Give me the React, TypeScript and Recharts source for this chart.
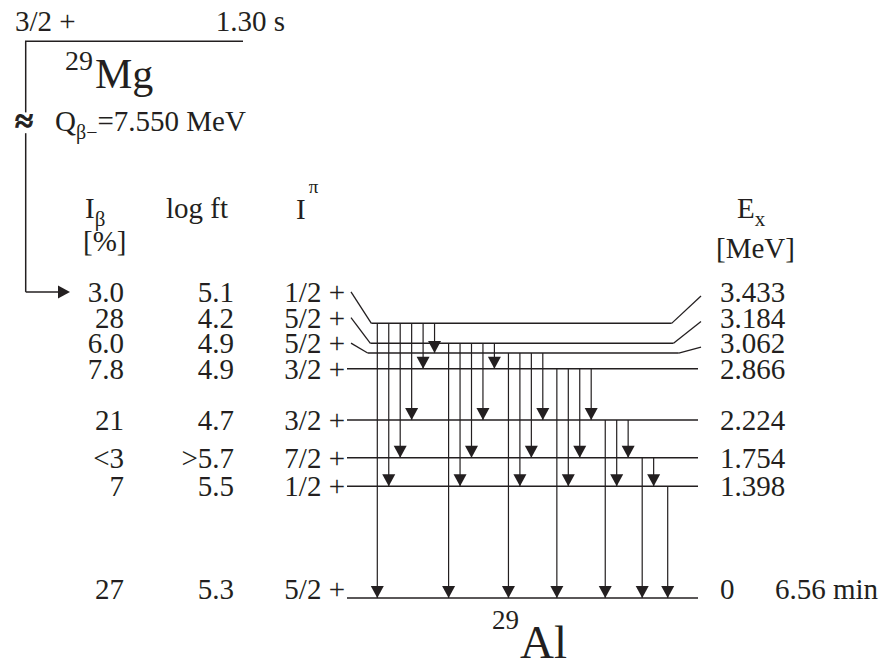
import React from 'react';
import { ComposedChart, XAxis, YAxis, ReferenceLine, ReferenceDot, Scatter } from 'recharts';

const ink = '#231f20';
const serif = 'Liberation Serif';
const FONT = 29;
const textStyle = { fontFamily: serif };

// 29Al levels fed in the beta- decay of 29Mg, ground state first
const levelEnergies = [0, 1.398, 1.754, 2.224, 2.866, 3.062, 3.184, 3.433];
const energyLabels = ['0', '1.398', '1.754', '2.224', '2.866', '3.062', '3.184', '3.433'];
const levelSpins = ['5/2 +', '1/2 +', '7/2 +', '3/2 +', '3/2 +', '5/2 +', '5/2 +', '1/2 +'];
const betaFeeding = ['27', '7', '<3', '21', '7.8', '6.0', '28', '3.0'];
const logFt = ['5.3', '5.5', '>5.7', '4.7', '4.9', '4.9', '4.2', '5.1'];

// gamma rays as [initial, final] level energy (MeV), grouped by initial level
const gammaRays = [
  [3.433, 0], [3.433, 1.398], [3.433, 1.754], [3.433, 2.224], [3.433, 2.866], [3.433, 3.062],
  [3.184, 0], [3.184, 1.398], [3.184, 1.754], [3.184, 2.224], [3.184, 2.866],
  [3.062, 0], [3.062, 1.398], [3.062, 1.754], [3.062, 2.224],
  [2.866, 0], [2.866, 1.398], [2.866, 1.754], [2.866, 2.224],
  [2.224, 0], [2.224, 1.398], [2.224, 1.754],
  [1.754, 0], [1.754, 1.398],
  [1.398, 0],
];

const parentSpin = '3/2 +';
const parentHalfLife = '1.30 s';
const qValue = '=7.550 MeV';
const groundHalfLife = '6.56 min';

const W = 881;
const H = 664;
// energy axis: 80 px per MeV, ground state at y = 598
const Y_DOMAIN: [number, number] = [-0.825, 7.475];
const PX_PER_MEV = H / (Y_DOMAIN[1] - Y_DOMAIN[0]);
const PARENT_Y = 6.96; // parent level sits above a broken axis
const BREAK_Y = 5.94;
const LABEL_GAP = 0.32; // min spacing of level labels, MeV

// level labels are pushed up when levels crowd together
const labelEnergies: number[] = [];
levelEnergies.forEach((e, i) => {
  labelEnergies.push(i === 0 ? e : Math.max(e, labelEnergies[i - 1] + LABEL_GAP));
});

// gamma lines sit side by side, a small extra gap between groups
const gammaX: number[] = [];
{
  let group = 0;
  gammaRays.forEach((g, i) => {
    if (i > 0 && g[0] !== gammaRays[i - 1][0]) group += 1;
    gammaX.push(377.3 + i * 11.45 + group * 2.6);
  });
}

const arrowDown = (p: any) => (
  <path d={`M${p.cx - 6.5},${p.cy - 12} L${p.cx + 6.5},${p.cy - 12} L${p.cx},${p.cy} Z`} fill={ink} />
);

const arrowRight = (p: any) => (
  <path d={`M${p.cx - 12},${p.cy - 6.5} L${p.cx - 12},${p.cy + 6.5} L${p.cx},${p.cy} Z`} fill={ink} />
);

const columnText = (anchor: 'start' | 'end') => (p: any) => (
  <text
    x={p.cx}
    y={p.cy + (p.payload.ground ? 1 : 10)}
    textAnchor={anchor}
    fontFamily={serif}
    style={textStyle}
    fontSize={FONT}
    fill={ink}
  >
    {p.payload.text}
  </text>
);

const column = (x: number, texts: string[]) =>
  texts.map((text, i) => ({ x, y: labelEnergies[i], text, ground: levelEnergies[i] === 0 }));

export default function App() {
  const levelLines = levelEnergies.map((e, i) => {
    const le = labelEnergies[i];
    const shift = (le - e) * PX_PER_MEV;
    const x0 = shift > 0 ? 366 + 0.17 * shift : 347;
    const x1 = shift > 0 ? 682 - 0.33 * shift : 698;
    return { e, le, shift, x0, x1 };
  });
  const feedY = labelEnergies[labelEnergies.length - 1];

  return (
    <div style={{ position: 'absolute', left: 0, top: 0, width: W, height: H, background: '#fff', fontFamily: serif }}>
      <ComposedChart width={W} height={H} margin={{ top: 0, right: 0, bottom: 0, left: 0 }} style={textStyle}>
        <XAxis type="number" dataKey="x" domain={[0, W]} allowDataOverflow hide />
        <YAxis type="number" dataKey="y" domain={Y_DOMAIN} allowDataOverflow hide />

        {/* parent level and beta feeding line */}
        <ReferenceLine segment={[{ x: 25, y: PARENT_Y }, { x: 243, y: PARENT_Y }]} stroke={ink} strokeWidth={1.5} ifOverflow="visible" />
        <ReferenceLine segment={[{ x: 25.7, y: PARENT_Y }, { x: 25.7, y: BREAK_Y + 0.13 }]} stroke={ink} strokeWidth={1.5} ifOverflow="visible" />
        <ReferenceLine segment={[{ x: 25.7, y: BREAK_Y - 0.13 }, { x: 25.7, y: feedY }]} stroke={ink} strokeWidth={1.5} ifOverflow="visible" />
        <ReferenceLine segment={[{ x: 25.7, y: feedY }, { x: 60, y: feedY }]} stroke={ink} strokeWidth={1.5} ifOverflow="visible" />
        <ReferenceDot
          x={25}
          y={BREAK_Y}
          ifOverflow="visible"
          shape={(p: any) => (
            <text
              x={p.cx - 1}
              y={p.cy + 9}
              textAnchor="middle"
              fontFamily={serif}
              style={textStyle}
              fontSize={33}
              fontWeight="bold"
              fill={ink}
              stroke={ink}
              strokeWidth={0.9}
            >
              ≈
            </text>
          )}
        />
        <Scatter data={[{ x: 70, y: feedY }]} shape={arrowRight} isAnimationActive={false} />

        {/* daughter levels with connectors to their labels */}
        {levelLines.map((l, i) => (
          <ReferenceLine key={`lv${i}`} segment={[{ x: l.x0, y: l.e }, { x: l.x1, y: l.e }]} stroke={ink} strokeWidth={1.5} ifOverflow="visible" />
        ))}
        {levelLines.filter((l) => l.shift > 0).map((l, i) => (
          <ReferenceLine key={`cl${i}`} segment={[{ x: 351, y: l.le }, { x: l.x0, y: l.e }]} stroke={ink} strokeWidth={1.3} ifOverflow="visible" />
        ))}
        {levelLines.filter((l) => l.shift > 0).map((l, i) => (
          <ReferenceLine key={`cr${i}`} segment={[{ x: l.x1, y: l.e }, { x: 701, y: l.le - 4 / PX_PER_MEV }]} stroke={ink} strokeWidth={1.3} ifOverflow="visible" />
        ))}

        {/* gamma transitions */}
        {gammaRays.map((g, i) => (
          <ReferenceLine key={`g${i}`} segment={[{ x: gammaX[i], y: g[0] }, { x: gammaX[i], y: g[1] }]} stroke={ink} strokeWidth={1.2} ifOverflow="visible" />
        ))}
        <Scatter data={gammaRays.map((g, i) => ({ x: gammaX[i], y: g[1] }))} shape={arrowDown} isAnimationActive={false} />

        {/* table columns */}
        <Scatter data={column(124, betaFeeding)} shape={columnText('end')} isAnimationActive={false} />
        <Scatter data={column(234, logFt)} shape={columnText('end')} isAnimationActive={false} />
        <Scatter data={column(345, levelSpins)} shape={columnText('end')} isAnimationActive={false} />
        <Scatter data={column(720, energyLabels)} shape={columnText('start')} isAnimationActive={false} />
        <Scatter data={[{ x: 775, y: 0, text: groundHalfLife, ground: true }]} shape={columnText('start')} isAnimationActive={false} />

        {/* headings and nuclide names */}
        <g fill={ink} fontFamily={serif} style={textStyle}>
          <text x={15} y={31} fontSize={FONT}>{parentSpin}</text>
          <text x={285} y={31} fontSize={FONT} textAnchor="end">{parentHalfLife}</text>
          <text x={65} y={70} fontSize={28}>29</text>
          <text x={95} y={88} fontSize={42}>Mg</text>
          <text x={55} y={131} fontSize={FONT}>
            Q<tspan fontSize={20} dy={8}>β−</tspan>
            <tspan dy={-8}>{qValue}</tspan>
          </text>
          <text x={85} y={218} fontSize={FONT}>
            I<tspan fontSize={21} dy={8}>β</tspan>
          </text>
          <text x={83} y={251} fontSize={FONT}>[%]</text>
          <text x={166} y={218} fontSize={FONT}>log ft</text>
          <text x={296} y={219} fontSize={FONT}>
            I<tspan fontSize={19} dx={3} dy={-26}>π</tspan>
          </text>
          <text x={737} y={218} fontSize={FONT}>
            E<tspan fontSize={21} dy={8}>x</tspan>
          </text>
          <text x={716} y={258} fontSize={FONT}>[MeV]</text>
          <text x={492} y={629} fontSize={27}>29</text>
          <text x={520} y={658} fontSize={47}>Al</text>
        </g>
      </ComposedChart>
    </div>
  );
}
